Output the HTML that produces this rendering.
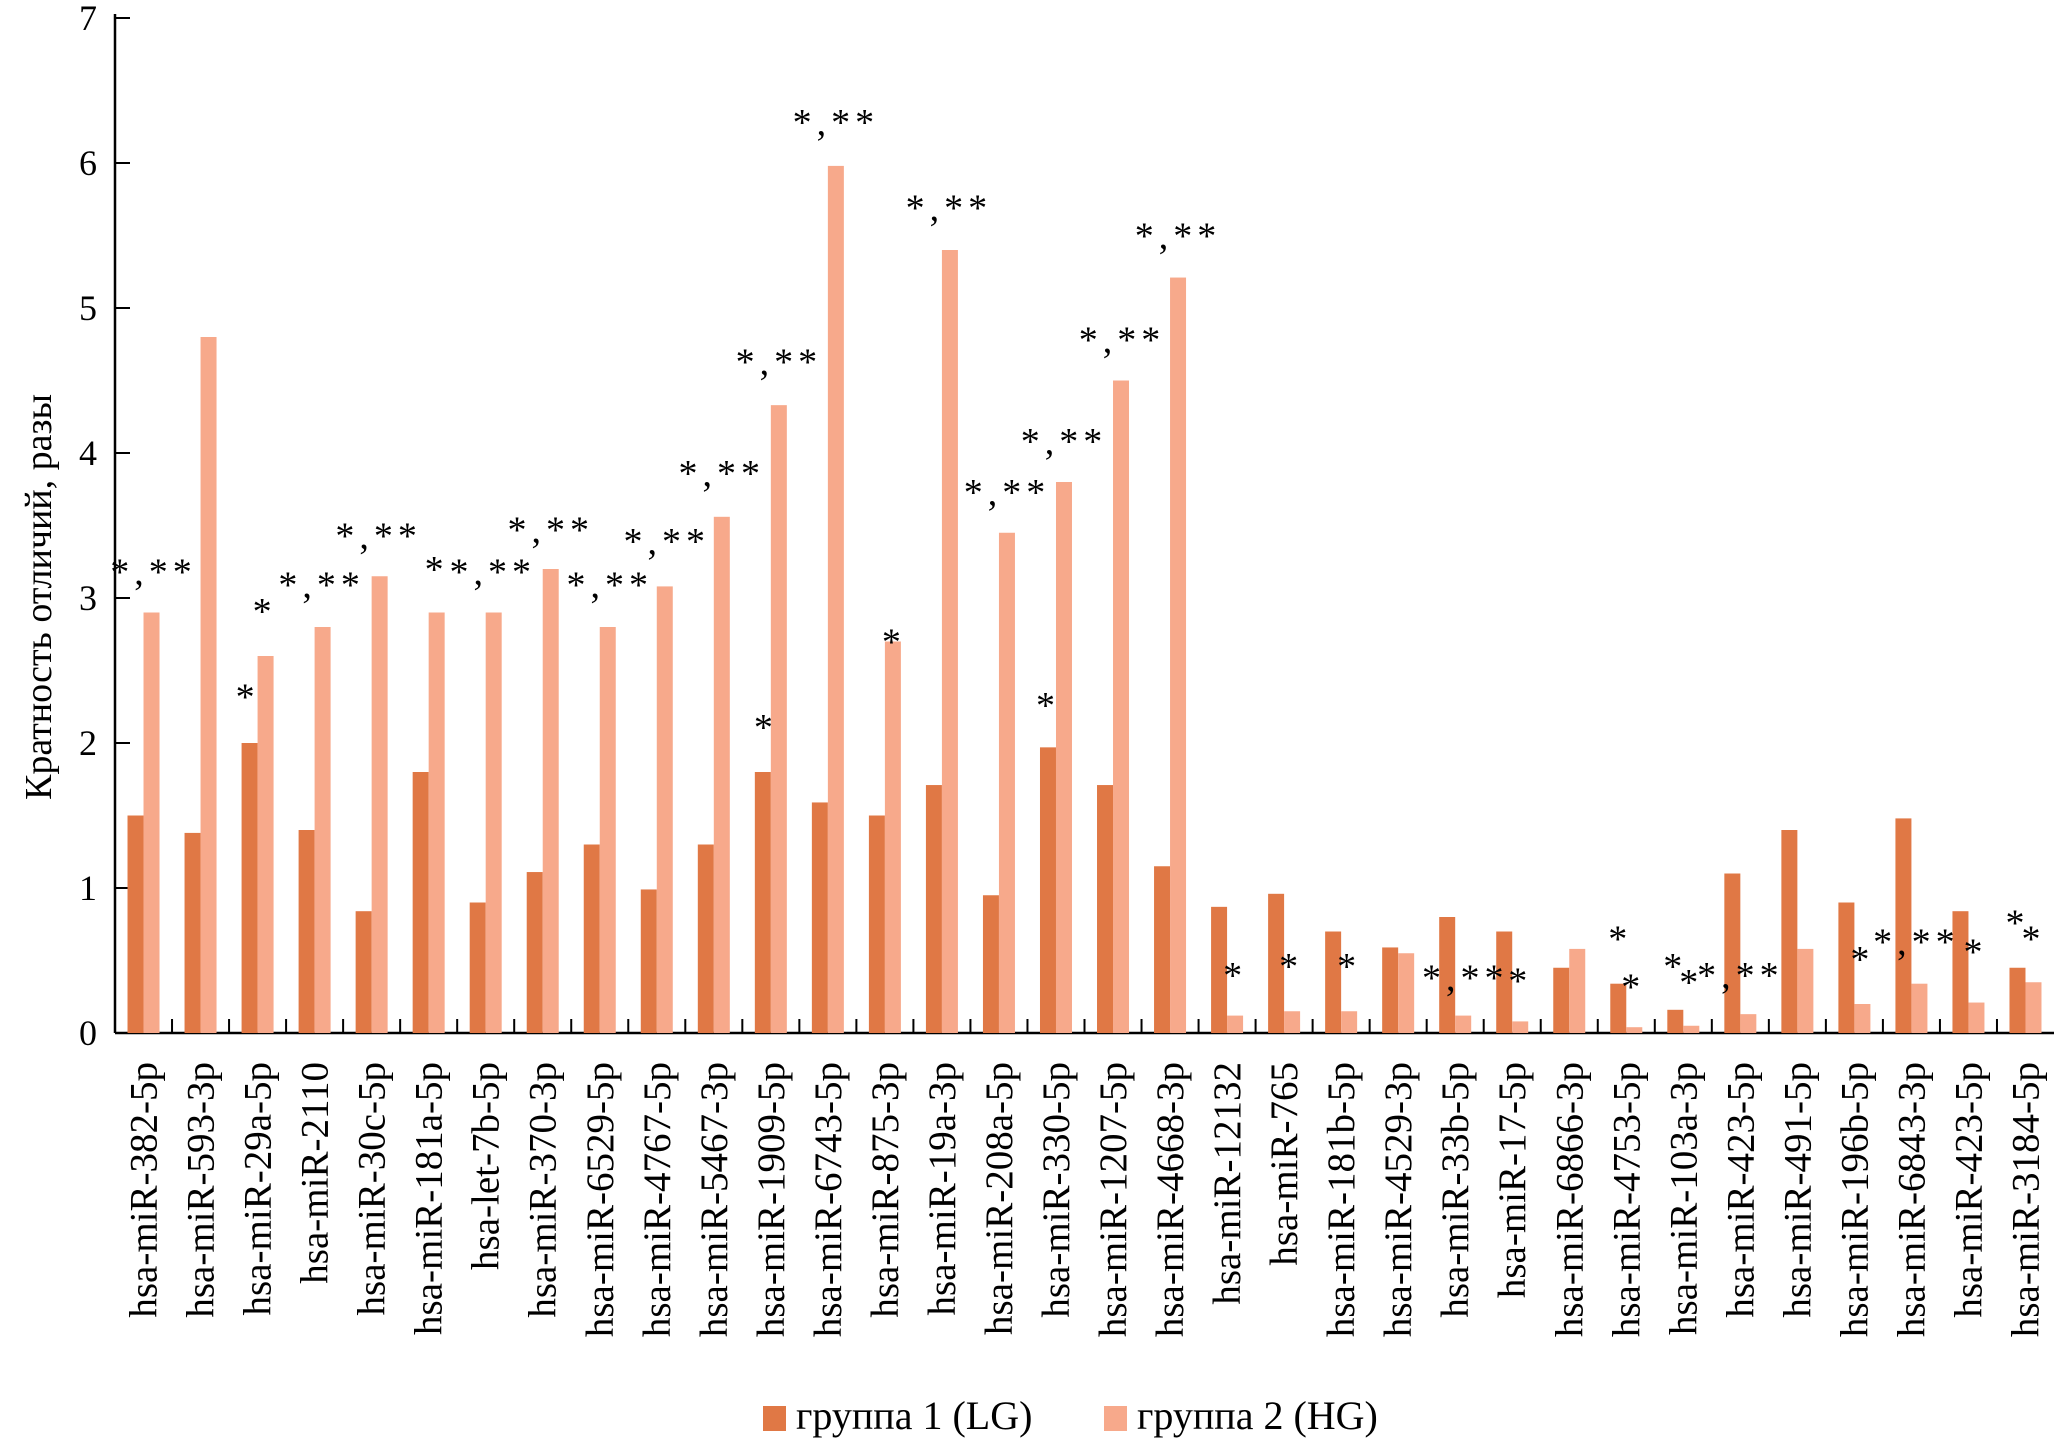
<!DOCTYPE html>
<html><head><meta charset="utf-8"><style>
html,body{margin:0;padding:0;background:#fff;}
svg, svg text{font-family:"Liberation Serif","DejaVu Serif",serif;}
svg{display:block;}
</style></head><body>
<svg id="chart" width="2056" height="1441" viewBox="0 0 2056 1441" xmlns="http://www.w3.org/2000/svg" font-family="Liberation Serif, DejaVu Serif, serif">
<g id="axes"></g>
<g id="bars"></g>
<g id="annots"></g>
<g id="xlabels"></g>
<text transform="translate(51,597) rotate(-90)" text-anchor="middle" font-size="38" font-family="Liberation Serif, serif">Кратность отличий, разы</text>
<g>
<rect x="763" y="1406" width="23" height="25" fill="#E07845"/>
<text x="796" y="1429" font-size="40" font-family="Liberation Serif, serif">группа 1 (LG)</text>
<rect x="1104" y="1406" width="23" height="25" fill="#F7A98B"/>
<text x="1137" y="1429" font-size="40" font-family="Liberation Serif, serif">группа 2 (HG)</text>
</g>
</svg>
<script>
const categories = ["hsa-miR-382-5p","hsa-miR-593-3p","hsa-miR-29a-5p","hsa-miR-2110","hsa-miR-30c-5p","hsa-miR-181a-5p","hsa-let-7b-5p","hsa-miR-370-3p","hsa-miR-6529-5p","hsa-miR-4767-5p","hsa-miR-5467-3p","hsa-miR-1909-5p","hsa-miR-6743-5p","hsa-miR-875-3p","hsa-miR-19a-3p","hsa-miR-208a-5p","hsa-miR-330-5p","hsa-miR-1207-5p","hsa-miR-4668-3p","hsa-miR-12132","hsa-miR-765","hsa-miR-181b-5p","hsa-miR-4529-3p","hsa-miR-33b-5p","hsa-miR-17-5p","hsa-miR-6866-3p","hsa-miR-4753-5p","hsa-miR-103a-3p","hsa-miR-423-5p","hsa-miR-491-5p","hsa-miR-196b-5p","hsa-miR-6843-3p","hsa-miR-423-5p","hsa-miR-3184-5p"];
const group1 = [1.5,1.38,2.0,1.4,0.84,1.8,0.9,1.11,1.3,0.99,1.3,1.8,1.59,1.5,1.71,0.95,1.97,1.71,1.15,0.87,0.96,0.7,0.59,0.8,0.7,0.45,0.34,0.16,1.1,1.4,0.9,1.48,0.84,0.45];
const group2 = [2.9,4.8,2.6,2.8,3.15,2.9,2.9,3.2,2.8,3.08,3.56,4.33,5.98,2.7,5.4,3.45,3.8,4.5,5.21,0.12,0.15,0.15,0.55,0.12,0.08,0.58,0.04,0.05,0.13,0.58,0.2,0.34,0.21,0.35];
const yTicks = [0,1,2,3,4,5,6,7];
const annotCat = [0,2,2,3,4,5,6,7,8,9,10,11,11,12,13,14,15,16,16,17,18,19,20,21,23,24,26,26,27,27,28,30,31,32,33,33];
const annotText = ["*,**","*","*","*,**","*,**","*","*,**","*,**","*,**","*,**","*,**","*","*,**","*,**","*","*,**","*,**","*","*,**","*,**","*,**","*","*","*","*,**","*","*","*","*","*","*,**","*","*,**","*","*","*"];
const annotLevel = [3.23,2.37,2.96,3.14,3.48,3.25,3.23,3.52,3.14,3.44,3.91,2.16,4.68,6.33,2.75,5.74,3.78,2.31,4.13,4.83,5.55,0.45,0.51,0.51,0.43,0.41,0.70,0.37,0.51,0.40,0.45,0.56,0.68,0.61,0.81,0.70];
const annotDx = [10,-10,7,7,7,8,7,8,10,10,8,-5,8,8,9,7,8,-8,8,9,8,8,7,8,10,8,-6,7,-8,8,0,8,5,7,-8,8];

const NS="http://www.w3.org/2000/svg";
const X0=115, X1=2054, Y0=1033, YTOP=18, YMAX=7;
const band=(X1-X0)/categories.length;
const y=v=>Y0-(v/YMAX)*(Y0-YTOP);
const cx=i=>X0+band*(i+0.5);
const BW=16;
const FF="Liberation Serif, DejaVu Serif, serif";
function mk(tag,attrs,parent){const e=document.createElementNS(NS,tag);for(const k in attrs)e.setAttribute(k,attrs[k]);parent.appendChild(e);return e;}
const axes=document.getElementById('axes'),bars=document.getElementById('bars'),ann=document.getElementById('annots'),xl=document.getElementById('xlabels');

let ax=mk('line',{x1:X0,y1:YTOP-4,x2:X0,y2:Y0,stroke:'#000','stroke-width':2.5},axes);


let bx=mk('line',{x1:X0,y1:Y0,x2:X1,y2:Y0,stroke:'#000','stroke-width':2.5},axes);


yTicks.forEach(t=>{
  const l=mk('line',{x1:X0,y1:y(t),x2:X0+15,y2:y(t),stroke:'#000','stroke-width':2},axes);
  
  
  const tx=mk('text',{x:88,y:y(t)+12,'text-anchor':'middle','font-size':36,'font-family':FF},axes);
  
  
  tx.textContent=t;
});
for(let i=1;i<categories.length;i++){
  const xx=X0+band*i;
  const l=mk('line',{x1:xx,y1:Y0,x2:xx,y2:Y0-14,stroke:'#000','stroke-width':2},axes);
  
  
}
categories.forEach((c,i)=>{
  const r1=mk('rect',{x:cx(i)-BW,y:y(group1[i]),width:BW,height:Y0-y(group1[i]),fill:'#E07845'},bars);
  
  
  const r2=mk('rect',{x:cx(i),y:y(group2[i]),width:BW,height:Y0-y(group2[i]),fill:'#F7A98B'},bars);
  
  
  const t=mk('text',{transform:`translate(${cx(i)+13},1062) rotate(-90)`,'text-anchor':'end','font-size':39,'font-family':FF},xl);
  
  
  t.textContent=c;
});
annotCat.forEach((c,k)=>{
  const t=mk('text',{x:cx(c)+annotDx[k],y:y(annotLevel[k])+20,'text-anchor':'middle','font-size':38,'letter-spacing':5,'font-family':FF},ann);
  
  
  t.textContent=annotText[k];
});
</script>
</body></html>
